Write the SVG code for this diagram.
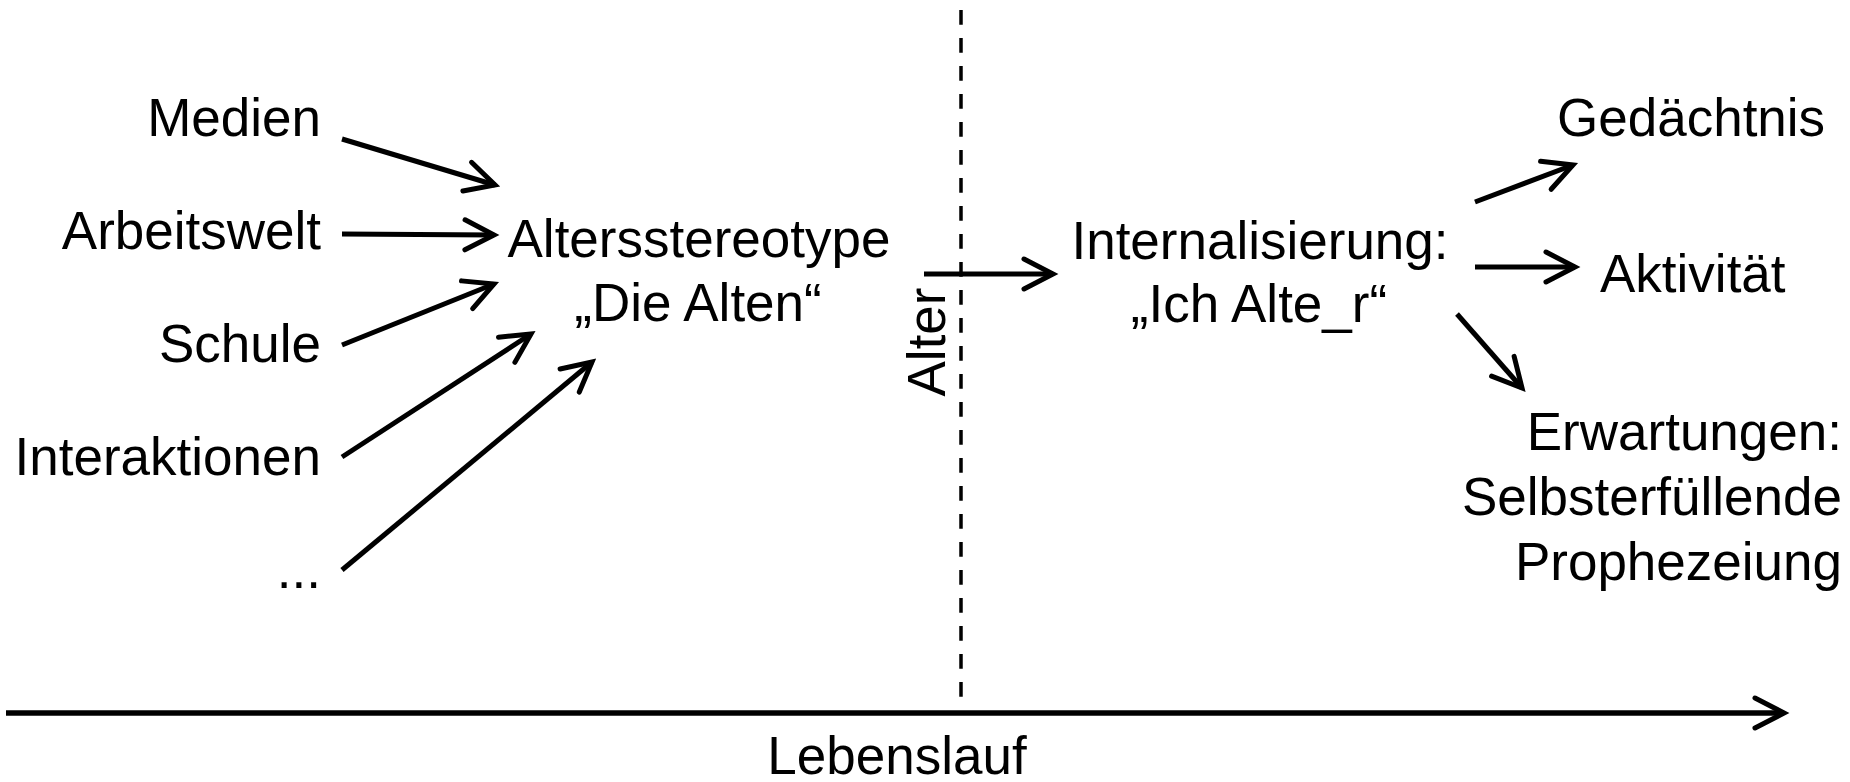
<svg xmlns="http://www.w3.org/2000/svg" width="1850" height="782" viewBox="0 0 1850 782">
  <style>
    text { font-family: "Liberation Sans", Arial, Helvetica, sans-serif; font-size: 53px; fill: #000; }
    .end { text-anchor: end; }
    .mid { text-anchor: middle; }
    .conn { stroke: #000; stroke-width: 5; fill: none; marker-end: url(#arr); }
    .axis { stroke: #000; stroke-width: 5.5; fill: none; marker-end: url(#arr); }
    .dash { stroke: #000; stroke-width: 3.5; fill: none; stroke-dasharray: 14.7 13.3; }
  </style>
  <defs>
    <marker id="arr" markerUnits="userSpaceOnUse" viewBox="-40 -25 50 50" refX="0" refY="0" markerWidth="50" markerHeight="50" orient="auto" overflow="visible">
      <path d="M-29,-15 L0,0 L-29,15" fill="none" stroke="#000" stroke-width="5" stroke-linecap="round" stroke-linejoin="miter"/>
    </marker>
  </defs>
  <rect width="1850" height="782" fill="#fff"/>

  <g id="connectors">
    <line class="dash" x1="961" y1="10" x2="961" y2="698"/>
    <line class="axis" x1="6" y1="713" x2="1784" y2="713"/>
    <line class="conn" x1="342" y1="139" x2="495" y2="185"/>
    <line class="conn" x1="342" y1="234" x2="494" y2="235"/>
    <line class="conn" x1="342" y1="345" x2="494" y2="284"/>
    <line class="conn" x1="342" y1="457" x2="531" y2="334"/>
    <line class="conn" x1="342" y1="570" x2="592" y2="362"/>
    <line class="conn" x1="924" y1="274" x2="1053" y2="274"/>
    <line class="conn" x1="1475" y1="202" x2="1573" y2="165"/>
    <line class="conn" x1="1475" y1="267" x2="1575" y2="267"/>
    <line class="conn" x1="1457" y1="314" x2="1522" y2="388"/>
  </g>

  <g id="medien"><text class="end" x="321" y="136">Medien</text></g>
  <g id="arbeitswelt"><text class="end" x="321" y="249">Arbeitswelt</text></g>
  <g id="schule"><text class="end" x="321" y="362">Schule</text></g>
  <g id="interaktionen"><text class="end" x="321" y="475">Interaktionen</text></g>
  <g id="weitere"><text class="end" x="321" y="588">...</text></g>

  <g id="altersstereotype">
    <text class="mid" x="699" y="257">Altersstereotype</text>
    <text class="mid" x="698" y="321">„Die Alten“</text>
  </g>

  <g id="alter"><text class="mid" transform="translate(945,342) rotate(-90)">Alter</text></g>

  <g id="internalisierung">
    <text class="mid" x="1260" y="259">Internalisierung:</text>
    <text class="mid" x="1259" y="322">„Ich Alte_r“</text>
  </g>

  <g id="gedaechtnis"><text x="1557" y="136">Gedächtnis</text></g>
  <g id="aktivitaet"><text x="1600" y="292">Aktivität</text></g>
  <g id="erwartungen">
    <text class="end" x="1842" y="450">Erwartungen:</text>
    <text class="end" x="1842" y="515">Selbsterfüllende</text>
    <text class="end" x="1842" y="580">Prophezeiung</text>
  </g>

  <g id="lebenslauf"><text class="mid" x="897" y="774">Lebenslauf</text></g>
</svg>
